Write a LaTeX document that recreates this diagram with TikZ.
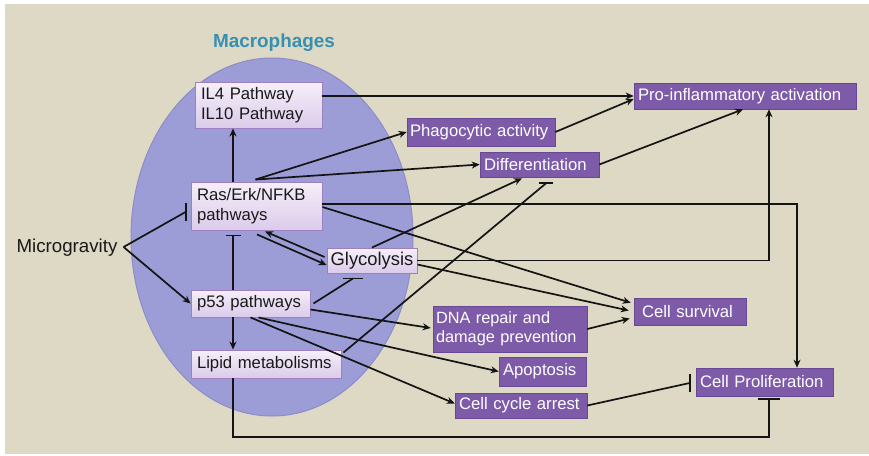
\documentclass[tikz,border=0pt]{standalone}
\usepackage{fontspec}
\setmainfont{Liberation Sans}
\usetikzlibrary{arrows.meta,calc}
\definecolor{bg}{HTML}{DDD9C4}
\definecolor{ellfill}{HTML}{9C9DD6}
\definecolor{ellline}{HTML}{8B8CC9}
\definecolor{lboxtop}{HTML}{F6EFF9}
\definecolor{lboxbot}{HTML}{DBCBEA}
\definecolor{lboxline}{HTML}{9E80C0}
\definecolor{pfill}{HTML}{7D5BA8}
\definecolor{pline}{HTML}{684893}
\definecolor{titlec}{HTML}{3790B2}
\begin{document}
\begin{tikzpicture}[x=1pt,y=-1pt,
  lbox/.style={draw=lboxline, line width=0.9pt, top color=lboxtop, bottom color=lboxbot,
    text=black!90, font=\fontsize{16.7}{19.5}\selectfont, align=left, inner xsep=6pt, inner ysep=0pt},
  pbox/.style={draw=pline, line width=0.6pt, fill=pfill, text=white,
    font=\fontsize{16.7}{19.5}\selectfont, align=left, inner xsep=4pt, inner ysep=0pt},
  con/.style={line width=1.7pt, black!92},
  arr/.style={con, -{Stealth[length=8pt,width=7pt]}},
  tbar/.style={line width=1.9pt, black!92}]
\useasboundingbox (0,0) rectangle (869,455);
\fill[white] (0,0) rectangle (869,455);
\fill[bg] (5,4) rectangle (869,454);
\filldraw[fill=ellfill, draw=ellline, line width=1pt] (272,237) ellipse [x radius=141pt, y radius=179pt];
\node[font=\bfseries\fontsize{18.9}{22}\selectfont, text=titlec] (mac) at (274,43) {Macrophages};

% inner nodes
\node[lbox, text width=115pt, minimum height=46pt] (il) at (258.5,105) {IL4 Pathway\\IL10 Pathway};
\node[lbox, text width=119pt, minimum height=48pt] (ras) at (256.5,206) {Ras/Erk/NFKB\\pathways};
\node[lbox, align=center, inner xsep=2pt, text width=86pt, minimum height=25pt,
  font=\fontsize{18.4}{21}\selectfont] (gly) at (372,260.5) {Glycolysis};
\node[lbox, text width=107pt, minimum height=27pt] (p53) at (250.5,303.5) {p53 pathways};
\node[lbox, text width=138pt, minimum height=28pt] (lip) at (266,364) {Lipid metabolisms};

% outer nodes
\node[pbox, text width=214pt, minimum height=26pt] (pro) at (745,96) {Pro-inflammatory activation};
\node[pbox, inner xsep=3pt, text width=142pt, minimum height=28pt] (pha) at (481,132) {Phagocytic activity};
\node[pbox, text width=111pt, minimum height=25pt] (dif) at (539.5,164.5) {Differentiation};
\node[pbox, inner xsep=3pt, text width=148pt, minimum height=46pt,
  font=\fontsize{16.3}{19}\selectfont] (dna) at (510,329) {DNA repair and\\damage prevention};
\node[pbox, inner xsep=8pt, text width=96pt, minimum height=27pt] (sur) at (690,311.5) {Cell survival};
\node[pbox, text width=79pt, minimum height=29pt] (apo) at (542.5,371.5) {Apoptosis};
\node[pbox, text width=124pt, minimum height=25pt] (cca) at (521,405.5) {Cell cycle arrest};
\node[pbox, text width=129pt, minimum height=28pt] (prol) at (764.5,382) {Cell Proliferation};

\node[font=\fontsize{18.7}{22}\selectfont, inner sep=2pt, text=black!90] (mg) at (67,248) {Microgravity};

% helper coordinates
\coordinate (lx) at (233,0);
\coordinate (rx) at (797,0);
\coordinate (gx) at (769,0);
\coordinate (bot) at (769,437);
\coordinate (mgo) at ($(mg.east)+(4,-1)$);

% Microgravity
\coordinate (tRas) at ($(ras.west)+(-5,6)$);
\draw[con] (mgo) -- (tRas);
\draw[tbar] ($(tRas)+(0,-9)$) -- ($(tRas)+(0,9)$);
\draw[arr] (mgo) -- (p53.west);

% spine
\draw[arr] (ras.north -| lx) -- (il.south -| lx);
\coordinate (tRasB) at ($(ras.south -| lx)+(0,5)$);
\draw[con] (p53.north -| lx) -- (tRasB);
\draw[tbar] ($(tRasB)+(-7.5,0)$) -- ($(tRasB)+(7.5,0)$);
\draw[arr] (p53.south -| lx) -- (lip.north -| lx);

% Ras <-> Glycolysis
\draw[arr] ($(ras.south)+(0.5,4)$) -- ($(gly.west)+(0,4.5)$);
\draw[arr] ($(gly.west)+(-2,-3.5)$) -- ($(ras.south)+(8.5,1)$);

% Ras outputs
\coordinate (rtop) at ($(ras.north)+(-1,-2)$);
\draw[arr] (rtop) -- (pha.west);
\draw[arr] (rtop) -- (dif.west);
\draw[arr] ($(ras.east)+(0,-2)$) -| (prol.north -| rx);
\draw[arr] ($(ras.east)+(0,1)$) -- ($(sur.north west)+(-3,5)$);

% to pro-inflammatory
\draw[arr] (il.east |- pro.west) -- (pro.west);
\draw[arr] (pha.east) -- ($(pro.west)+(0,3)$);
\draw[arr] (dif.east) -- ($(pro.south)+(-2,0)$);
\draw[arr] (gly.east) -| (pro.south -| gx);

% glycolysis
\draw[arr] ($(gly.east)+(0,4)$) -- ($(sur.west)+(-5,-1)$);
\draw[arr] (gly.north) -- ($(dif.south)+(-17.5,1)$);

% lipid
\coordinate (tDif) at ($(dif.south)+(6.5,6)$);
\draw[con] ($(lip.north east)+(2,3)$) -- (tDif);
\draw[tbar] ($(tDif)+(-7,0)$) -- ($(tDif)+(7,0)$);
\coordinate (tProlB) at ($(prol.south -| gx)+(0,3)$);
\draw[con] (lip.south -| lx) |- (bot) -- (tProlB);
\draw[tbar] ($(tProlB)+(-11,0)$) -- ($(tProlB)+(11,0)$);

% p53
\coordinate (tGly) at ($(gly.south)+(-19,5)$);
\draw[con] ($(p53.east)+(3,0)$) -- (tGly);
\draw[tbar] ($(tGly)+(-10,0)$) -- ($(tGly)+(10,0)$);
\draw[arr] ($(p53.east)+(0,6)$) -- ($(dna.west)+(-2,-1)$);
\draw[arr] ($(p53.south)+(8,0)$) -- (apo.west);
\draw[arr] (p53.south) -- ($(cca.west)+(0,-2)$);

% others
\draw[arr] (dna.east) -- ($(sur.west)+(-4,7)$);
\coordinate (tProl) at ($(prol.west)+(-6,1)$);
\draw[con] (cca.east) -- (tProl);
\draw[tbar] ($(tProl)+(0,-9)$) -- ($(tProl)+(0,9)$);
\end{tikzpicture}
\end{document}
